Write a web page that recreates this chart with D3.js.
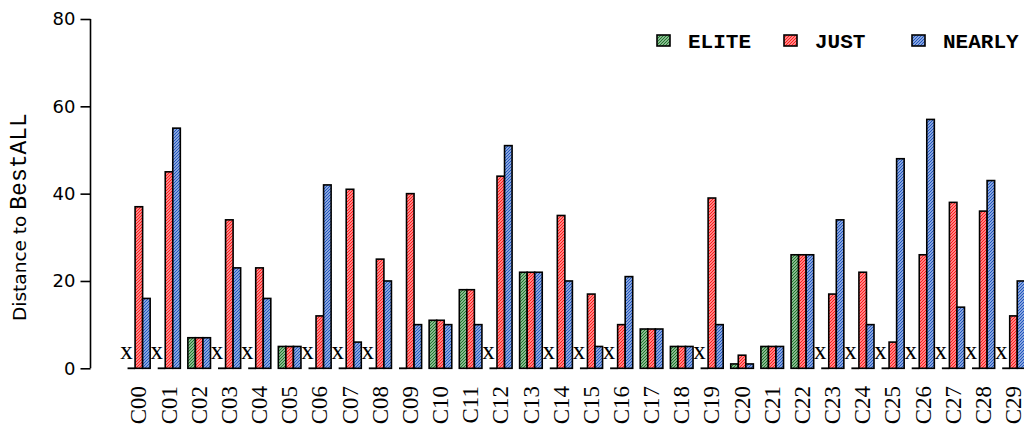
<!DOCTYPE html>
<html>
<head>
<meta charset="utf-8">
<script src="https://cdn.jsdelivr.net/npm/d3@7"></script>
<style>
  html, body { margin: 0; padding: 0; background: #fff; }
  svg { display: block; }
  .serif { font-family: "Liberation Serif", "Times New Roman", serif; }
  .mono { font-family: "Liberation Mono", "Courier New", monospace; }
  .sans { font-family: "DejaVu Sans", Verdana, sans-serif; }
</style>
</head>
<body>
<svg id="chart" width="1024" height="430"></svg>
<script>
// Per-configuration distance to BestALL for three selection strategies
const categories = ["C00","C01","C02","C03","C04","C05","C06","C07","C08","C09",
                    "C10","C11","C12","C13","C14","C15","C16","C17","C18","C19",
                    "C20","C21","C22","C23","C24","C25","C26","C27","C28","C29"];
const elite  = [0,0,7,0,0,5,0,0,0,0,11,18,0,22,0,0,0,9,5,0,1,5,26,0,0,0,0,0,0,0];
const just   = [37,45,7,34,23,5,12,41,25,40,11,18,44,22,35,17,10,9,5,39,3,5,26,17,22,6,26,38,36,12];
const nearly = [16,55,7,23,16,5,42,6,20,10,10,10,51,22,20,5,21,9,5,10,1,5,26,34,10,48,57,14,43,20];
// configurations where ELITE found nothing
const eliteFailed = [1,1,0,1,1,0,1,1,1,0,0,0,1,0,1,1,1,0,0,1,0,0,0,1,1,1,1,1,1,1];
const seriesNames = ["ELITE","JUST","NEARLY"];
const seriesColors = ["#1f7a2c","#ff1a1a","#1f55c0"];
const yTicks = [0,20,40,60,80];

const series = [elite, just, nearly];
const svg = d3.select("#chart");

// hatched fills
const defs = svg.append("defs");
seriesColors.forEach((c, i) => {
  const p = defs.append("pattern")
    .attr("id", "hatch" + i)
    .attr("patternUnits", "userSpaceOnUse")
    .attr("width", 3).attr("height", 3);
  p.append("rect").attr("width", 3).attr("height", 3).attr("fill", "#fff");
  p.append("path")
    .attr("d", "M0,3 L3,0 M-1,1 L1,-1 M2,4 L4,2")
    .attr("stroke", c).attr("stroke-width", 1.5);
});

// bar units: each bar one unit wide, one empty unit between groups
const x = d3.scaleLinear().domain([0, 1]).range([120, 127.54]);
const y = d3.scaleLinear().domain([0, 80]).range([368.3, 19]);

const groupStart = i => 1 + 4 * i;

// y axis
const yAxis = d3.axisLeft(y).tickValues(yTicks).tickSize(10).tickPadding(5);
const gy = svg.append("g").attr("transform", "translate(90.5,0)").call(yAxis);
gy.select(".domain").attr("stroke", "#000").attr("stroke-width", 1.6)
  .attr("d", `M0,${y(0)}V${y(80)}`);
gy.selectAll(".tick line").attr("stroke", "#000").attr("stroke-width", 1.6);
gy.selectAll(".tick text")
  .attr("class", "sans")
  .attr("font-family", null)
  .attr("font-size", 18).attr("fill", "#000");

// y axis title
const yt = svg.append("text")
  .attr("transform", `translate(26,217) rotate(-90)`)
  .attr("text-anchor", "middle")
  .attr("fill", "#000");
yt.append("tspan").attr("class", "sans").attr("font-size", 18.5)
  .text("Distance to ");
yt.append("tspan").attr("class", "mono").attr("font-size", 23)
  .text("BestALL");

// bars
const bars = svg.append("g");
categories.forEach((cat, i) => {
  series.forEach((vals, k) => {
    const v = vals[i];
    const x0 = x(groupStart(i) + k), x1 = x(groupStart(i) + k + 1);
    if (v === 0) {
      bars.append("line")
        .attr("x1", x0).attr("x2", x1)
        .attr("y1", y(0)).attr("y2", y(0))
        .attr("stroke", "#000").attr("stroke-width", 1.8);
    } else {
      bars.append("rect")
        .attr("x", x0).attr("width", x1 - x0)
        .attr("y", y(v)).attr("height", y(0) - y(v))
        .attr("fill", `url(#hatch${k})`)
        .attr("stroke", "#000").attr("stroke-width", 1.6);
    }
  });
});

// failure markers
svg.append("g").selectAll("text")
  .data(categories.map((c, i) => i).filter(i => eliteFailed[i]))
  .join("text")
  .attr("class", "serif")
  .attr("x", i => x(groupStart(i)) - 1)
  .attr("y", 359)
  .attr("text-anchor", "middle")
  .attr("font-size", 25)
  .attr("fill", "#000")
  .text("x");

// category labels
svg.append("g").selectAll("text")
  .data(categories)
  .join("text")
  .attr("class", "serif")
  .attr("transform", (d, i) => `translate(${x(groupStart(i) + 1.5)},386) rotate(-90)`)
  .attr("text-anchor", "end")
  .attr("dy", "0.33em")
  .attr("font-size", 23)
  .attr("fill", "#000")
  .text(d => d);

// legend
const legendX = [657, 784, 912];
const lg = svg.append("g");
seriesNames.forEach((name, k) => {
  lg.append("rect")
    .attr("x", legendX[k]).attr("y", 35)
    .attr("width", 13).attr("height", 11)
    .attr("fill", `url(#hatch${k})`)
    .attr("stroke", "#000").attr("stroke-width", 1.6);
  lg.append("text")
    .attr("class", "mono")
    .attr("x", legendX[k] + 31).attr("y", 41)
    .attr("dy", "0.35em")
    .attr("font-weight", "bold")
    .attr("font-size", 21)
    .attr("fill", "#000")
    .text(name);
});
</script>
</body>
</html>
